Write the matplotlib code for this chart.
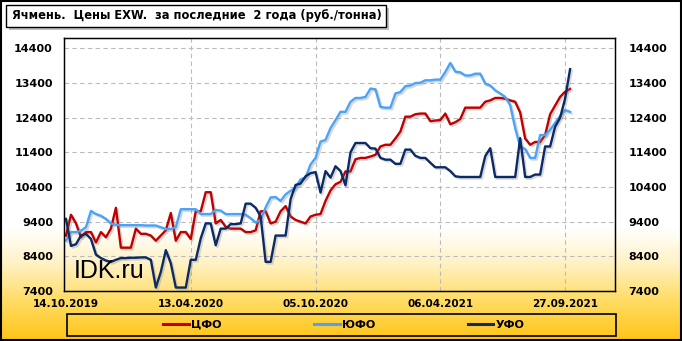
import matplotlib
matplotlib.use('Agg')
import matplotlib.pyplot as plt
import matplotlib.patheffects as pe
from matplotlib.patches import Rectangle
from matplotlib.lines import Line2D
import numpy as np

plt.rcParams['font.family'] = 'DejaVu Sans'

# ------------ data (weekly) ------------
cfo = [9000, 9600, 9350, 8950, 9100, 9100, 8800, 9100, 8950, 9200,
       9800, 8650, 8650, 8650, 9200, 9050, 9050, 9000, 8850, 9000,
       9150, 9650, 8850, 9100, 9100, 8900, 9700, 9700, 10250, 10250,
       9350, 9450, 9250, 9200, 9200, 9200, 9100, 9100, 9150, 9700,
       9700, 9350, 9400, 9700, 9850, 9550, 9450, 9400, 9350, 9550,
       9600, 9620, 10000, 10300, 10480, 10550, 10850, 10850, 11200, 11240,
       11240, 11280, 11330, 11570, 11620, 11620, 11800, 12000, 12430, 12430,
       12500, 12520, 12520, 12300, 12320, 12330, 12520, 12210, 12270, 12360,
       12690, 12690, 12690, 12690, 12860, 12900, 12970, 12970, 12950, 12900,
       12860, 12550, 11800, 11620, 11700, 11700, 11900, 12500, 12750, 13000,
       13150, 13230]

yufo = [8860, 9100, 9100, 9140, 9240, 9710, 9620, 9570, 9480, 9350,
        9310, 9300, 9300, 9300, 9300, 9300, 9290, 9290, 9290, 9240,
        9190, 9190, 9240, 9760, 9760, 9760, 9760, 9620, 9620, 9620,
        9740, 9720, 9620, 9620, 9620, 9620, 9600, 9500, 9380, 9450,
        9810, 10100, 10110, 10000, 10190, 10290, 10380, 10620, 10670, 11050,
        11240, 11710, 11760, 12100, 12330, 12570, 12570, 12860, 12970, 12970,
        13000, 13240, 13220, 12710, 12690, 12690, 13100, 13140, 13310, 13330,
        13400, 13410, 13480, 13480, 13500, 13500, 13720, 13980, 13730, 13710,
        13620, 13620, 13670, 13670, 13380, 13330, 13190, 13100, 13000, 12760,
        12100, 11560, 11500, 11240, 11240, 11900, 11900, 12050, 12250, 12450,
        12620, 12570]

ufo = [9480, 8700, 8750, 9000, 9050, 8900, 8450, 8350, 8280, 8240,
       8300, 8350, 8350, 8360, 8360, 8370, 8370, 8300, 7500, 7950,
       8580, 8200, 7500, 7500, 7500, 8300, 8300, 8920, 9350, 9350,
       8720, 9200, 9200, 9330, 9330, 9350, 9920, 9920, 9800, 9550,
       8240, 8240, 9000, 9000, 9000, 10050, 10460, 10500, 10710, 10800,
       10830, 10240, 10860, 10670, 11000, 10860, 10450, 11400, 11670, 11670,
       11670, 11520, 11510, 11240, 11190, 11190, 11070, 11070, 11480, 11480,
       11300, 11240, 11240, 11100, 10970, 10970, 10970, 10860, 10710, 10690,
       10690, 10690, 10690, 10690, 11290, 11520, 10690, 10690, 10690, 10690,
       10690, 11810, 10690, 10690, 10760, 10760, 11570, 11570, 12140, 12400,
       12950, 13800]

series_names = ['ЦФО', 'ЮФО', 'УФО']
series_colors = ['#C00000', '#4AA3F5', '#0B2A66']

tick_idx = [0, 25, 50, 75, 100]
tick_labels = ['14.10.2019', '13.04.2020', '05.10.2020', '06.04.2021', '27.09.2021']
y_ticks = [7400, 8400, 9400, 10400, 11400, 12400, 13400, 14400]

title = 'Ячмень.  Цены EXW.  за последние  2 года (руб./тонна)'

# ------------ figure ------------
W, H = 682, 341
fig = plt.figure(figsize=(W / 100, H / 100), dpi=100)

# background: white at top, yellow gradient at bottom
bg = fig.add_axes([0, 0, 1, 1], zorder=-10)
rows = np.arange(H)
stops_y = [0, 228, 262, 300, 341]
r = np.interp(rows, stops_y, [255, 255, 255, 255, 255])
g = np.interp(rows, stops_y, [255, 255, 242, 220, 196])
b = np.interp(rows, stops_y, [255, 255, 198, 100, 20])
grad = np.stack([r, g, b], axis=1)[:, None, :] / 255.0
grad = np.repeat(grad, 2, axis=1)
bg.imshow(grad, aspect='auto', extent=[0, 1, 0, 1], origin='upper')
bg.set_axis_off()

def fx(px):
    return px / W

def fy(py):
    return 1 - py / H

ax = fig.add_axes([fx(64), fy(291), fx(615) - fx(64), fy(38) - fy(291)])
ax.patch.set_alpha(0)

x = np.arange(len(cfo))
for vals, name, col in zip([cfo, yufo, ufo], series_names, series_colors):
    ax.plot(x, vals, color=col, linewidth=1.7, solid_joinstyle='round',
            path_effects=[pe.SimpleLineShadow(offset=(1.2, -1.2), shadow_color='#808080', alpha=0.3),
                          pe.Normal()])

ax.set_xlim(-0.4, 110)
ax.set_ylim(7400, 14700)
ax.set_xticks(tick_idx)
ax.set_xticklabels(tick_labels)
ax.set_yticks(y_ticks)
ax.set_yticklabels([str(v) for v in y_ticks])
ax.tick_params(length=0)
ax.tick_params(axis='y', pad=8, labelsize=8)
ax.tick_params(axis='x', pad=6, labelsize=7.5)
for lab in ax.get_xticklabels() + ax.get_yticklabels():
    lab.set_fontweight('bold')

ax.grid(True, color='#BBBBBB', linestyle=(0, (4, 3)), linewidth=0.8)
ax.xaxis.get_gridlines()[0].set_visible(False)
for s in ax.spines.values():
    s.set_linewidth(1.0)
    s.set_color('black')

ax2 = ax.twinx()
ax2.set_ylim(ax.get_ylim())
ax2.set_yticks(y_ticks)
ax2.set_yticklabels([str(v) for v in y_ticks])
ax2.tick_params(length=0, pad=9.5, labelsize=8)
for lab in ax2.get_yticklabels():
    lab.set_fontweight('bold')
ax2.patch.set_alpha(0)

# watermark
fig.text(fx(74), fy(278), 'IDK.ru', fontsize=18, family='Liberation Sans',
         color='black', va='baseline', ha='left')

# title box with shadow
fig.patches.append(Rectangle((fx(9), fy(30)), fx(389) - fx(9), fy(8) - fy(30),
                             transform=fig.transFigure, facecolor='#9A9A9A', alpha=0.6,
                             edgecolor='none', zorder=1))
fig.patches.append(Rectangle((fx(6), fy(27)), fx(386) - fx(6), fy(5) - fy(27),
                             transform=fig.transFigure, facecolor='white',
                             edgecolor='black', linewidth=1.0, zorder=2))
fig.text(fx(12), fy(16), title, fontsize=8.3, fontweight='bold',
         va='center', ha='left', zorder=3)

# legend frame + entries
fig.patches.append(Rectangle((fx(67), fy(336)), fx(616) - fx(67), fy(314) - fy(336),
                             transform=fig.transFigure, facecolor='none',
                             edgecolor='black', linewidth=1.2, zorder=2))
handles = [Line2D([], [], color=c, linewidth=2.2) for c in series_colors]
fig.legend(handles, series_names, loc='center', bbox_to_anchor=(fx(344), fy(325)),
           ncol=3, frameon=False, handlelength=2.3, handletextpad=0.25,
           columnspacing=8.3, prop=dict(size=8, weight='bold'))

# outer border
fig.patches.append(Rectangle((0.001, 0.002), 0.997, 0.995, transform=fig.transFigure,
                             facecolor='none', edgecolor='black', linewidth=1.5, zorder=5))

plt.savefig('out.png', dpi=100)
